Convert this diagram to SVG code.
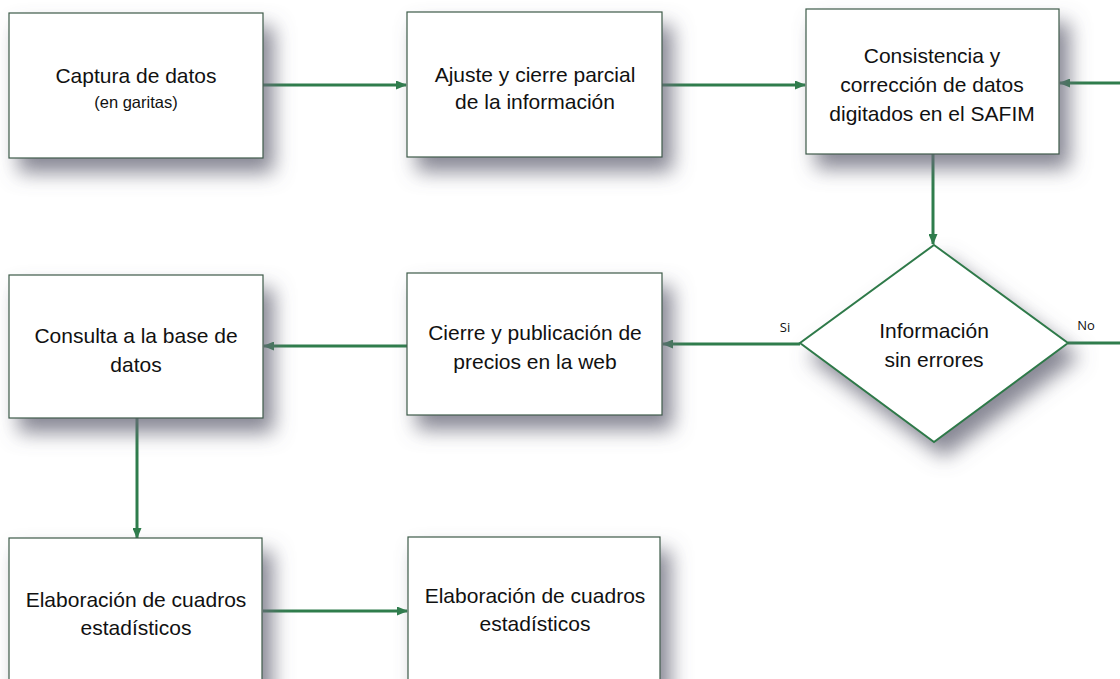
<svg xmlns="http://www.w3.org/2000/svg" width="1120" height="679" viewBox="0 0 1120 679">
<style>
.box{fill:#fff;stroke:#3d5a48;stroke-width:1.2}
.dia{fill:#fff;stroke:#2f7a4a;stroke-width:2}
.t{font-family:"Liberation Sans",Arial,sans-serif;font-size:21px;fill:#111;text-anchor:middle}
.s{font-family:"Liberation Sans",Arial,sans-serif;font-size:16.5px;fill:#111;text-anchor:middle}
.lbl{font-family:"Open Sans","DejaVu Sans",sans-serif;font-size:13px;fill:#111;text-anchor:middle}
.c{fill:none;stroke:#2f7d4c;stroke-width:3}
</style>
<defs>
<filter id="sh" x="-25%" y="-25%" width="160%" height="180%">
<feGaussianBlur in="SourceAlpha" stdDeviation="10"/>
<feOffset dx="10" dy="14" result="b"/>
<feFlood flood-color="#6a6a7a" flood-opacity="0.8"/>
<feComposite in2="b" operator="in"/>
<feMerge><feMergeNode/><feMergeNode in="SourceGraphic"/></feMerge>
</filter>
<marker id="ah" markerWidth="11" markerHeight="9" refX="10" refY="4.5" orient="auto" markerUnits="userSpaceOnUse">
<path d="M0,0 L11,4.5 L0,9 Z" fill="#2f7d4c"/>
</marker>
</defs>
<rect width="1120" height="679" fill="#fff"/>
<g id="connectors">
<line class="c" x1="263" y1="85" x2="406" y2="85" marker-end="url(#ah)"/>
<line class="c" x1="662" y1="85" x2="805" y2="85" marker-end="url(#ah)"/>
<line class="c" x1="1120" y1="83" x2="1060" y2="83" marker-end="url(#ah)"/>
<line class="c" x1="933" y1="154" x2="933" y2="244" marker-end="url(#ah)"/>
<line class="c" x1="800" y1="344" x2="663" y2="344" marker-end="url(#ah)"/>
<line class="c" x1="1068" y1="343" x2="1120" y2="343"/>
<line class="c" x1="407" y1="346" x2="264" y2="346" marker-end="url(#ah)"/>
<line class="c" x1="137" y1="418" x2="137" y2="538" marker-end="url(#ah)"/>
<line class="c" x1="263" y1="611" x2="407" y2="611" marker-end="url(#ah)"/>
<text class="lbl" x="785" y="332">Si</text>
<text class="lbl" x="1086" y="330">No</text>
</g>
<g id="n1">
<rect class="box" x="9" y="13" width="254" height="145" filter="url(#sh)"/>
<text class="t" x="136" y="83">Captura de datos</text>
<text class="s" x="136" y="108">(en garitas)</text>
</g>
<g id="n2">
<rect class="box" x="407" y="12" width="255" height="145" filter="url(#sh)"/>
<text class="t" x="535" y="82">Ajuste y cierre parcial</text>
<text class="t" x="535" y="109">de la información</text>
</g>
<g id="n3">
<rect class="box" x="806" y="9" width="253" height="145" filter="url(#sh)"/>
<text class="t" x="932" y="63">Consistencia y</text>
<text class="t" x="932" y="92">corrección de datos</text>
<text class="t" x="932" y="121">digitados en el SAFIM</text>
</g>
<g id="n4">
<polygon class="dia" points="934,245 1068,343 934,442 800,343" filter="url(#sh)"/>
<text class="t" x="934" y="338">Información</text>
<text class="t" x="934" y="367">sin errores</text>
</g>
<g id="n5">
<rect class="box" x="407" y="273" width="255" height="142" filter="url(#sh)"/>
<text class="t" x="535" y="340">Cierre y publicación de</text>
<text class="t" x="535" y="369">precios en la web</text>
</g>
<g id="n6">
<rect class="box" x="9" y="275" width="254" height="143" filter="url(#sh)"/>
<text class="t" x="136" y="343">Consulta a la base de</text>
<text class="t" x="136" y="372">datos</text>
</g>
<g id="n7">
<rect class="box" x="9" y="538" width="253" height="150" filter="url(#sh)"/>
<text class="t" x="136" y="607">Elaboración de cuadros</text>
<text class="t" x="136" y="635">estadísticos</text>
</g>
<g id="n8">
<rect class="box" x="408" y="537" width="252" height="150" filter="url(#sh)"/>
<text class="t" x="535" y="603">Elaboración de cuadros</text>
<text class="t" x="535" y="631">estadísticos</text>
</g>
</svg>
